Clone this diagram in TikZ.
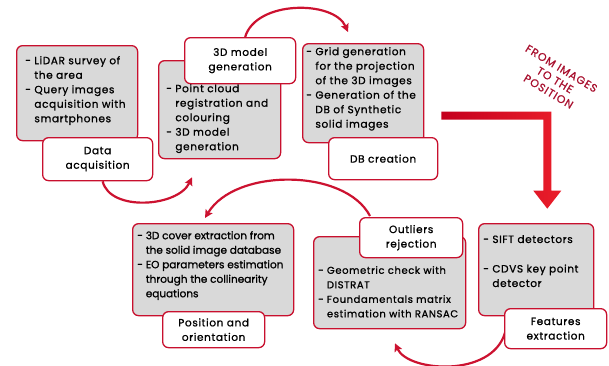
\documentclass[tikz,border=0pt]{standalone}
\usepackage{fontspec}
\setmainfont{Poppins}
\newfontfamily\spacedfont{Poppins}[LetterSpace=6,FakeBold=1]
\newfontfamily\tightfont{Poppins}[FakeBold=1]
\newfontfamily\capfont{Poppins}[LetterSpace=8,FakeBold=0.8]
\usetikzlibrary{calc,backgrounds,arrows.meta}
\definecolor{bred}{HTML}{C8102E}
\definecolor{gfill}{HTML}{D9D9D9}
\definecolor{ared}{HTML}{CC1230}
\definecolor{tred}{HTML}{A8102E}
\definecolor{darr}{HTML}{C4001E}
\definecolor{barr}{HTML}{EA1E2A}
\begin{document}
\begin{tikzpicture}[x=1pt,y=-1pt,
 graybox/.style={draw=bred, line width=1.3pt, fill=gfill, rounded corners=6pt, anchor=north west, inner sep=0pt},
 labelbox/.style={draw=bred, line width=1.3pt, fill=white, rounded corners=6pt, anchor=north west, inner sep=0pt, align=center, font=\spacedfont\fontsize{10.5}{14.5}\selectfont},
 listtext/.style={anchor=north west, inner sep=0pt, align=left, font=\spacedfont\fontsize{10.5}{14.5}\selectfont},
 tighttext/.style={anchor=north west, inner sep=0pt, align=left, font=\tightfont\fontsize{10.5}{14.5}\selectfont},
 captext/.style={rotate=-31, text=tred, inner sep=0pt, font=\capfont\fontsize{11}{12}\selectfont},
 arcarrow/.style={draw=ared, line width=2.2pt, -{Stealth[length=8pt,width=8pt,inset=1.5pt]}},
]
\useasboundingbox (0,0) rectangle (609,365);

% top row
\node[graybox, minimum width=121pt, minimum height=95pt] (g1) at (16,45) {};
\node[listtext] (t1) at (25,56) {- LiDAR survey of\\\hphantom{- }the area\\- Query images\\\hphantom{- }acquisition with\\\hphantom{- }smartphones};
\node[labelbox, minimum width=110pt, minimum height=43pt] (l1) at (42,137) {Data\\acquisition};

\node[graybox, minimum width=122pt, minimum height=98pt] (g2) at (158,60) {};
\node[listtext] (t2) at (166,84) {- Point cloud\\\hphantom{- }registration and\\\hphantom{- }colouring\\- 3D model\\\hphantom{- }generation};
\node[labelbox, minimum width=111pt, minimum height=46pt] (l2) at (184,37) {3D model\\generation};

\node[graybox, minimum width=121pt, minimum height=99pt] (g3) at (302,43) {};
\node[listtext] (t3) at (306,47) {- Grid generation\\\hphantom{- }for the projection\\\hphantom{- }of the 3D images\\- Generation of the\\\hphantom{- }DB of Synthetic\\\hphantom{- }solid images};
\node[labelbox, minimum width=109pt, minimum height=42pt] (l3) at (328,137) {DB creation};

% bottom row
\node[graybox, minimum width=161pt, minimum height=92pt] (g4) at (132,223) {};
\node[tighttext] (t4) at (137,231) {- 3D cover extraction from\\\hphantom{- }the solid image database\\- EO parameters estimation\\\hphantom{- }through the collinearity\\\hphantom{- }equations};
\node[labelbox, minimum width=102pt, minimum height=36pt] (l4) at (162,311) {Position and\\orientation};

\node[graybox, minimum width=152pt, minimum height=92pt] (g5) at (313,236) {};
\node[tighttext, font=\spacedfont\fontsize{10}{14.5}\selectfont] (t5) at (318,266) {- Geometric check with\\\hphantom{- }DISTRAT\\- Foundamentals matrix\\\hphantom{- }estimation with RANSAC};
\node[labelbox, minimum width=103pt, minimum height=40pt] (l5) at (359,217) {Outliers\\rejection};

\node[graybox, minimum width=115pt, minimum height=92pt] (g6) at (478,223) {};
\node[listtext] (t6) at (483,235) {- SIFT detectors\\[15pt]- CDVS key point\\\hphantom{- }detector};
\node[labelbox, minimum width=102pt, minimum height=40pt] (l6) at (504,308) {Features\\extraction};

% rotated caption, one node per line
\node[captext] (cap1) at (561.5,68.5) {FROM IMAGES};
\node[captext] (cap2) at (555,80) {TO THE};
\node[captext] (cap3) at (548.5,91.5) {POSITION};

% big L arrow
\coordinate (bs) at ($(l3.east)+(3,-43)$);
\shade[left color=darr, right color=barr]
  (bs) ++(0,-4) -- ++(110,0) -- ++(0,79) -- ++(10,0) -- ++(-14,18) -- ++(-14,-18) -- ++(10,0) -- ++(0,-71) -- ++(-102,0) -- cycle;

\begin{pgfonlayer}{background}
\draw[arcarrow] ($(l1.south)+(5,0)$) .. controls (110,212) and (178,207) .. ($(g2.south west)+(34,18)$);
\draw[arcarrow] ($(l2.north)+(5,0)$) .. controls (256,0) and (334,0) .. ($(g3.north west)+(46,-11)$);
\draw[arcarrow] ($(l6.west)+(1,4)$) .. controls (492,378) and (408,372) .. ($(g5.south west)+(82,14)$);
\draw[arcarrow] ($(l5.north west)+(11,-1)$) .. controls (345,168) and (235,168) .. ($(g4.north west)+(73,-5)$);
\end{pgfonlayer}
\end{tikzpicture}
\end{document}
